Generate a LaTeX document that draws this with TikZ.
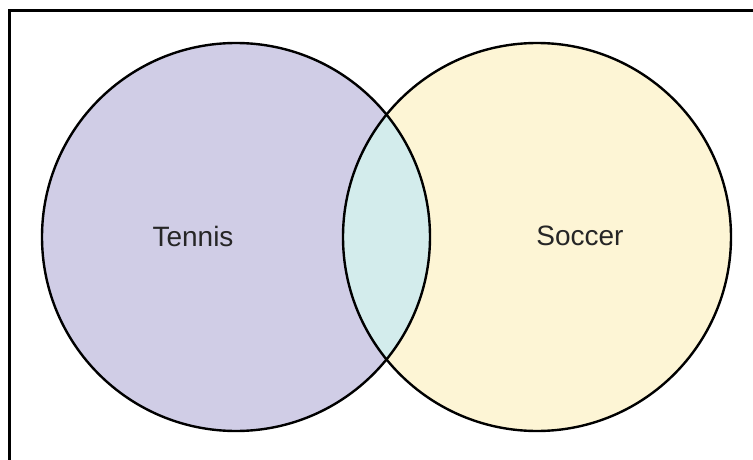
\documentclass[tikz,border=0pt]{standalone}
\usepackage{fontspec}
\setmainfont{Liberation Sans}
\definecolor{lav}{RGB}{208,205,230}
\definecolor{cream}{RGB}{253,245,213}
\definecolor{mint}{RGB}{211,236,236}
\begin{document}
\begin{tikzpicture}[x=1pt,y=-1pt,
  setc/.style={draw=black,line width=2.4pt},
  lbl/.style={font=\fontsize{28}{33}\selectfont,text=black!85}]
\useasboundingbox (0,0) rectangle (753,460);
\coordinate (fl) at (9,461);
\coordinate (ft) at (9,11);
\coordinate (fr) at (754,11);
\draw[line width=3pt] (fl) -- (ft) -- (fr);
\coordinate (A) at (236,237);
\coordinate (B) at (537,237);
\fill[lav] (A) circle (194);
\fill[cream] (B) circle (194);
\begin{scope}
  \clip (A) circle (194);
  \fill[mint] (B) circle (194);
\end{scope}
\draw[setc] (A) circle (194);
\draw[setc] (B) circle (194);
\node[lbl] (tennis) at (193,236) {Tennis};
\node[lbl] (soccer) at (580,236) {Soccer};
\end{tikzpicture}
\end{document}
